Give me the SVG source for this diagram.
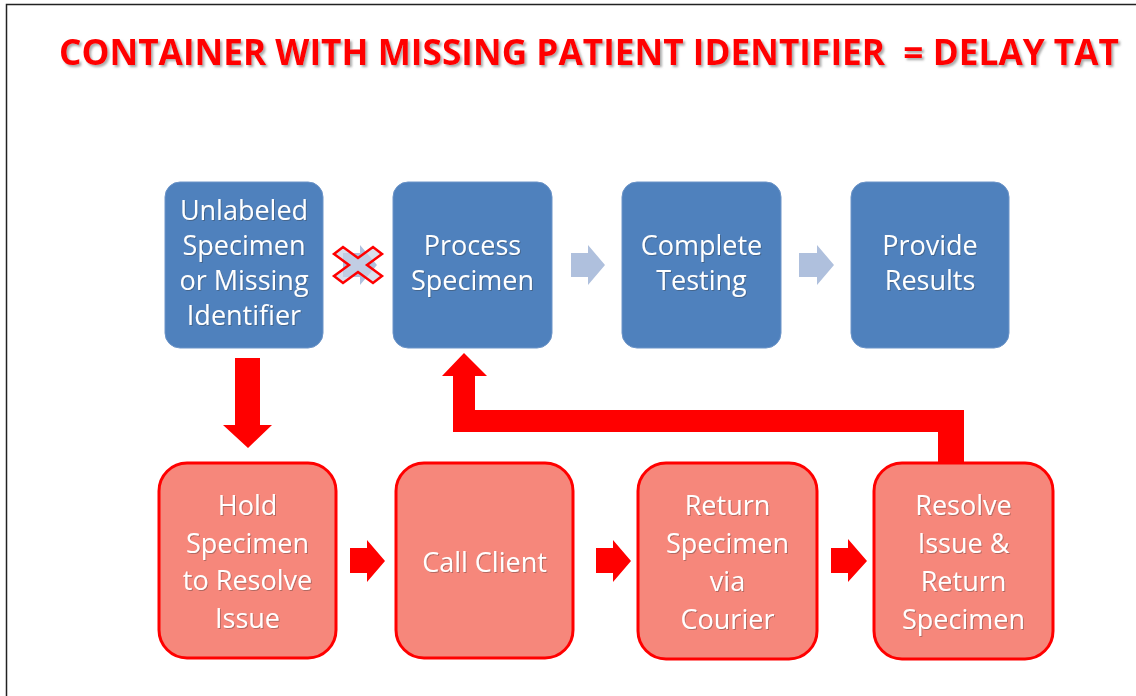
<svg xmlns="http://www.w3.org/2000/svg" width="1136" height="696" viewBox="0 0 1136 696">
<defs>
<filter id="sh" x="-2%" y="-20%" width="104%" height="160%">
<feDropShadow dx="2" dy="2" stdDeviation="1.2" flood-color="#666" flood-opacity="0.55"/>
</filter>
<filter id="tsh" x="-10%" y="-10%" width="120%" height="130%">
<feDropShadow dx="1" dy="1" stdDeviation="0.6" flood-color="#333" flood-opacity="0.35"/>
</filter>
</defs>
<style>
.blue{fill:#4F81BD;stroke:#6C94C8;stroke-width:1}
.red{fill:#F6877B;stroke:#FF0000;stroke-width:3}
.lbl{font-family:"Open Sans","Noto Sans",sans-serif;font-size:27px;fill:#FFFFFF;text-anchor:middle}
.ar{fill:#FF0000}
.bar{fill:#AFC0DD}
</style>
<rect x="0" y="0" width="1136" height="696" fill="#FFFFFF"/>
<path d="M6.5,696 L6.5,4.5 L1136,4.5" fill="none" stroke="#222" stroke-width="1.5"/>
<g id="title" transform="translate(59,65) scale(1,1.07)">
<text x="0" y="0" textLength="1060" lengthAdjust="spacingAndGlyphs" filter="url(#sh)" style="font-family:'Open Sans','Noto Sans',sans-serif;font-weight:bold;font-size:34px;fill:#FF0000;white-space:pre">CONTAINER WITH MISSING PATIENT IDENTIFIER  = DELAY TAT</text>
</g>
<g id="connectors">
<polygon class="bar" points="343,253 360,253 360,245 377,265 360,285 360,277 343,277"/>
<polygon points="334,254 343,247 358,258 373,247 382,254 367,265 382,276 373,283 358,272 343,283 334,276 349,265" fill="#C9D3E6" fill-opacity="0.7" stroke="#FF0000" stroke-width="2.5" stroke-linejoin="miter"/>
<polygon class="bar" points="571,253 588,253 588,245 605,265 588,285 588,277 571,277"/>
<polygon class="bar" points="799,253 817,253 817,245 834,265 817,285 817,277 799,277"/>
<polygon class="ar" points="235,358 260,358 260,425 272,425 248,448 223,425 235,425"/>
<polygon class="ar" points="350,548 367,548 367,540 385,561 367,582 367,573 350,573"/>
<polygon class="ar" points="596,548 613,548 613,540 631,561 613,582 613,573 596,573"/>
<polygon class="ar" points="831,548 848,548 848,539 867,561 848,582 848,573 831,573"/>
<polygon class="ar" points="464,353 487,376 475,376 475,410 964,410 964,462 938,462 938,432 453,432 453,376 442,376"/>
</g>
<g id="n1"><rect class="blue" x="165" y="182" width="158" height="166" rx="15"/>
<text class="lbl" filter="url(#tsh)"><tspan x="244" y="220">Unlabeled</tspan><tspan x="244" y="255">Specimen</tspan><tspan x="244" y="290">or Missing</tspan><tspan x="244" y="325">Identifier</tspan></text></g>
<g id="n2"><rect class="blue" x="393" y="182" width="159" height="166" rx="15"/>
<text class="lbl" filter="url(#tsh)"><tspan x="472.5" y="255">Process</tspan><tspan x="472.5" y="290">Specimen</tspan></text></g>
<g id="n3"><rect class="blue" x="622" y="182" width="159" height="166" rx="15"/>
<text class="lbl" filter="url(#tsh)"><tspan x="701.5" y="255">Complete</tspan><tspan x="701.5" y="290">Testing</tspan></text></g>
<g id="n4"><rect class="blue" x="851" y="182" width="158" height="166" rx="15"/>
<text class="lbl" filter="url(#tsh)"><tspan x="930" y="255">Provide</tspan><tspan x="930" y="290">Results</tspan></text></g>
<g id="n5"><rect class="red" x="159" y="463" width="177" height="195" rx="28"/>
<text class="lbl" filter="url(#tsh)"><tspan x="247.5" y="515">Hold</tspan><tspan x="247.5" y="553">Specimen</tspan><tspan x="247.5" y="590">to Resolve</tspan><tspan x="247.5" y="628">Issue</tspan></text></g>
<g id="n6"><rect class="red" x="396" y="463" width="177" height="195" rx="28"/>
<text class="lbl" filter="url(#tsh)"><tspan x="484.5" y="572">Call Client</tspan></text></g>
<g id="n7"><rect class="red" x="638" y="463" width="179" height="196" rx="28"/>
<text class="lbl" filter="url(#tsh)"><tspan x="727.5" y="515">Return</tspan><tspan x="727.5" y="553">Specimen</tspan><tspan x="727.5" y="591">via</tspan><tspan x="727.5" y="629">Courier</tspan></text></g>
<g id="n8"><rect class="red" x="874" y="463" width="179" height="196" rx="28"/>
<text class="lbl" filter="url(#tsh)"><tspan x="963.5" y="515">Resolve</tspan><tspan x="963.5" y="553">Issue &amp;</tspan><tspan x="963.5" y="591">Return</tspan><tspan x="963.5" y="629">Specimen</tspan></text></g>
</svg>
